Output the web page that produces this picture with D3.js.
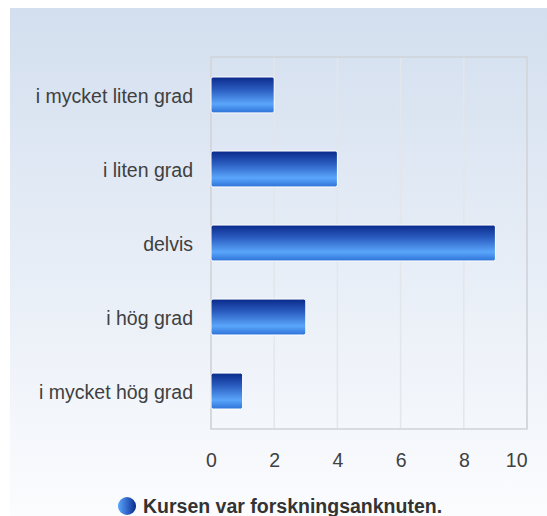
<!DOCTYPE html>
<html>
<head>
<meta charset="utf-8">
<script src="https://cdn.jsdelivr.net/npm/d3@7"></script>
<style>
	body { margin: 0; background: #fff; }
	svg { display: block; font-family: "Liberation Sans", Arial, sans-serif; }
</style>
</head>
<body>
<svg id="chart" width="547" height="516"></svg>
<script>
// chart data
const categories = ["i mycket liten grad", "i liten grad", "delvis", "i hög grad", "i mycket hög grad"];
const values = [2, 4, 9, 3, 1];
const xTicks = [0, 2, 4, 6, 8, 10];
const seriesName = "Kursen var forskningsanknuten.";

let svg = d3.select("#chart");
let defs = svg.append("defs");

// background panel gradient
let bg = defs.append("linearGradient")
	.attr("id", "bgGrad")
	.attr("x1", 0).attr("y1", 0).attr("x2", 0).attr("y2", 1);
bg.append("stop").attr("offset", "0%").attr("stop-color", "#d3dfef");
bg.append("stop").attr("offset", "100%").attr("stop-color", "#fbfcfe");

// bar gradient
let barGrad = defs.append("linearGradient")
	.attr("id", "barGrad")
	.attr("x1", 0).attr("y1", 0).attr("x2", 0).attr("y2", 1);
barGrad.append("stop").attr("offset", "0%").attr("stop-color", "#0a2a8a");
barGrad.append("stop").attr("offset", "35%").attr("stop-color", "#2a5cc0");
barGrad.append("stop").attr("offset", "75%").attr("stop-color", "#5aa6fb");
barGrad.append("stop").attr("offset", "100%").attr("stop-color", "#2d72d8");

// legend bullet gradient
let dotGrad = defs.append("linearGradient")
	.attr("id", "dotGrad")
	.attr("x1", 0).attr("y1", 0).attr("x2", 1).attr("y2", 0);
dotGrad.append("stop").attr("offset", "0%").attr("stop-color", "#5aa6fb");
dotGrad.append("stop").attr("offset", "60%").attr("stop-color", "#2a5cc0");
dotGrad.append("stop").attr("offset", "100%").attr("stop-color", "#0a2a8a");

svg.append("rect")
	.attr("x", 10).attr("y", 8)
	.attr("width", 537).attr("height", 508)
	.attr("fill", "url(#bgGrad)");

let plotLeft = 211, plotRight = 527, plotTop = 57, plotBottom = 429;

let x = d3.scaleLinear().domain([0, 10]).range([plotLeft, plotRight]);
let y = d3.scaleBand().domain(categories).range([plotTop, plotBottom]).paddingInner(0.515).paddingOuter(0.27);

// grid lines
svg.append("g")
	.selectAll("line")
	.data(xTicks)
	.enter()
	.append("line")
	.attr("x1", d => x(d)).attr("x2", d => x(d))
	.attr("y1", plotTop).attr("y2", plotBottom)
	.attr("stroke", "#e3e6ea")
	.attr("stroke-width", 1.5);

// plot border
svg.append("rect")
	.attr("x", plotLeft).attr("y", plotTop)
	.attr("width", plotRight - plotLeft).attr("height", plotBottom - plotTop)
	.attr("fill", "none")
	.attr("stroke", "#cfd3d8")
	.attr("stroke-width", 1.5);

// bars
svg.append("g")
	.selectAll("rect")
	.data(values)
	.enter()
	.append("rect")
	.attr("x", x(0))
	.attr("y", (d, i) => y(categories[i]))
	.attr("width", d => x(d) - x(0))
	.attr("height", y.bandwidth())
	.attr("rx", 2)
	.attr("fill", "url(#barGrad)")
	.attr("stroke", "#ffffff")
	.attr("stroke-width", 1);

// category labels
let yAxis = d3.axisLeft(y).tickSize(0).tickPadding(18);
let yg = svg.append("g").attr("transform", "translate(" + plotLeft + ",2)").call(yAxis);
yg.select(".domain").remove();
yg.selectAll("text")
	.attr("font-size", "19.5px")
	.attr("font-family", "Liberation Sans, Arial, sans-serif")
	.attr("fill", "#404040");

// value axis labels
let xAxis = d3.axisBottom(x).tickValues(xTicks).tickSize(0).tickPadding(24);
let xg = svg.append("g").attr("transform", "translate(0," + plotBottom + ")").call(xAxis);
xg.select(".domain").remove();
xg.selectAll("text")
	.attr("font-size", "19.5px")
	.attr("font-family", "Liberation Sans, Arial, sans-serif")
	.attr("fill", "#404040");
// last label is kept inside the plot edge
xg.selectAll(".tick")
	.filter(d => d === xTicks[xTicks.length - 1])
	.select("text")
	.attr("text-anchor", "end");

// legend
svg.append("circle")
	.attr("cx", 127).attr("cy", 506)
	.attr("r", 9)
	.attr("fill", "url(#dotGrad)");
svg.append("text")
	.attr("x", 143).attr("y", 513)
	.attr("font-size", "19.5px")
	.attr("font-weight", "bold")
	.attr("fill", "#333")
	.text(seriesName);
</script>
</body>
</html>
